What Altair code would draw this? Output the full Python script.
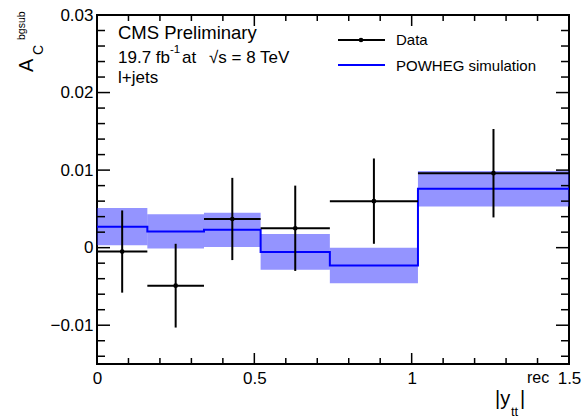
import altair as alt
import pandas as pd

# ---- data ----
bin_lo = [0.0, 0.16, 0.34, 0.52, 0.74, 1.02]
bin_hi = [0.16, 0.34, 0.52, 0.74, 1.02, 1.5]
data_x = [0.08, 0.25, 0.43, 0.63, 0.88, 1.26]
data_y = [-0.0005, -0.0049, 0.0037, 0.0025, 0.0060, 0.0096]
data_err = [0.0053, 0.0054, 0.0053, 0.0055, 0.0055, 0.0057]
mc_y = [0.0027, 0.0021, 0.0023, -0.00055, -0.0023, 0.0076]
mc_err = [0.0024, 0.0022, 0.0022, 0.0023, 0.0023, 0.0023]

x_major = [0.0, 0.5, 1.0, 1.5]
x_minor = [0.1, 0.2, 0.3, 0.4, 0.6, 0.7, 0.8, 0.9, 1.1, 1.2, 1.3, 1.4]
y_major = [-0.01, 0.0, 0.01, 0.02, 0.03]
y_minor = [-0.014, -0.012, -0.008, -0.006, -0.004, -0.002, 0.002, 0.004,
           0.006, 0.008, 0.012, 0.014, 0.016, 0.018, 0.022, 0.024, 0.026, 0.028]

W, H = 472, 349
FONT = "Liberation Sans"

xs = alt.Scale(domain=[0, 1.5], nice=False, zero=False)
ys = alt.Scale(domain=[-0.015, 0.03], nice=False, zero=False)

bins = pd.DataFrame({"lo": bin_lo, "hi": bin_hi, "mc": mc_y, "err": mc_err})
bins["mlo"] = bins["mc"] - bins["err"]
bins["mhi"] = bins["mc"] + bins["err"]
pts = pd.DataFrame({"x": data_x, "y": data_y, "e": data_err, "lo": bin_lo, "hi": bin_hi})
pts["ylo"] = pts["y"] - pts["e"]
pts["yhi"] = pts["y"] + pts["e"]
step = pd.DataFrame({"x": bin_lo + [bin_hi[-1]], "y": mc_y + [mc_y[-1]]})

xaxis = alt.Axis(values=x_major, labelExpr="format(datum.value, '~g')", tickSize=0,
                 domain=False, grid=False, labelFont=FONT, labelFontSize=17,
                 labelColor="black", labelPadding=6, labelFlush=False,
                 labelOverlap=False, title=None)
yaxis = alt.Axis(values=y_major, labelExpr="format(datum.value, '~g')", tickSize=0,
                 domain=False, grid=False, labelFont=FONT, labelFontSize=17,
                 labelColor="black", labelPadding=4, labelFlush=False,
                 labelOverlap=False, title=None)

band = alt.Chart(bins).mark_rect(color="#2a2aff", opacity=0.5).encode(
    x=alt.X("lo:Q", scale=xs, axis=xaxis), x2="hi:Q",
    y=alt.Y("mlo:Q", scale=ys, axis=yaxis), y2="mhi:Q")

mcline = alt.Chart(step).mark_line(color="#0000ff", strokeWidth=2,
                                   interpolate="step-after").encode(
    x=alt.X("x:Q", scale=xs), y=alt.Y("y:Q", scale=ys))

hbar = alt.Chart(pts).mark_rule(color="black", strokeWidth=2).encode(
    x=alt.X("lo:Q", scale=xs), x2="hi:Q", y=alt.Y("y:Q", scale=ys))
vbar = alt.Chart(pts).mark_rule(color="black", strokeWidth=2).encode(
    x=alt.X("x:Q", scale=xs), y=alt.Y("ylo:Q", scale=ys), y2="yhi:Q")
dots = alt.Chart(pts).mark_circle(color="black", opacity=1, size=22).encode(
    x=alt.X("x:Q", scale=xs), y=alt.Y("y:Q", scale=ys))

def xticks(vals, length):
    d = pd.DataFrame({"t": vals})
    bot = alt.Chart(d).mark_rule(color="black", strokeWidth=1.5).encode(
        x=alt.X("t:Q", scale=xs), y=alt.value(H), y2=alt.value(H - length))
    top = alt.Chart(d).mark_rule(color="black", strokeWidth=1.5).encode(
        x=alt.X("t:Q", scale=xs), y=alt.value(0), y2=alt.value(length))
    return [bot, top]

def yticks(vals, length):
    d = pd.DataFrame({"t": vals})
    left = alt.Chart(d).mark_rule(color="black", strokeWidth=1.5).encode(
        y=alt.Y("t:Q", scale=ys), x=alt.value(0), x2=alt.value(length))
    right = alt.Chart(d).mark_rule(color="black", strokeWidth=1.5).encode(
        y=alt.Y("t:Q", scale=ys), x=alt.value(W), x2=alt.value(W - length))
    return [left, right]

one = pd.DataFrame({"k": [0]})

def txt(s, x, y, size, angle=0, color="black"):
    kw = dict(text=s, font=FONT, fontSize=size, align="left",
              baseline="alphabetic", color=color)
    if angle:
        kw["angle"] = angle
    return alt.Chart(one).mark_text(**kw).encode(x=alt.value(x), y=alt.value(y))

texts = [
    txt("CMS Preliminary", 21, 24, 18.5),
    txt("19.7 fb", 21, 47.5, 17),
    txt("-1", 73, 38, 11.5),
    txt("at", 85, 47.5, 17),
    txt("\u221as = 8 TeV", 112, 47.5, 17),
    txt("l+jets", 21, 67.5, 17),
    # y title (rotated, reads bottom to top)
    txt("A", -64, 57, 20, angle=270),
    txt("C", -54, 40, 14, angle=270),
    txt("bgsub", -72, 25, 10.5, angle=270),
    # x title
    txt("|y", 398, 390, 20),
    txt("tt", 414, 401, 13),
    txt("|", 423, 390, 20),
    txt("rec", 430, 368, 16),
    # legend
    txt("Data", 299, 30, 15),
    txt("POWHEG simulation", 299, 56, 15),
]

leg = [
    alt.Chart(one).mark_rule(color="black", strokeWidth=2).encode(
        x=alt.value(241), x2=alt.value(288), y=alt.value(25)),
    alt.Chart(one).mark_circle(color="black", opacity=1, size=22).encode(
        x=alt.value(264), y=alt.value(25)),
    alt.Chart(one).mark_rule(color="#0000ff", strokeWidth=2).encode(
        x=alt.value(241), x2=alt.value(288), y=alt.value(50)),
]

layers = [band, mcline, hbar, vbar, dots] + xticks(x_major, 11) + xticks(x_minor, 6) \
    + yticks(y_major, 13) + yticks(y_minor, 8) + texts + leg

chart = alt.layer(*layers).properties(
    width=W, height=H,
    autosize=alt.AutoSizeParams(type="none"),
    padding={"left": 97, "top": 15, "right": 16, "bottom": 54},
    background="white",
).configure_view(stroke="black", strokeWidth=2)

chart.save("out.html", embed_options={"renderer": "svg", "actions": False})
